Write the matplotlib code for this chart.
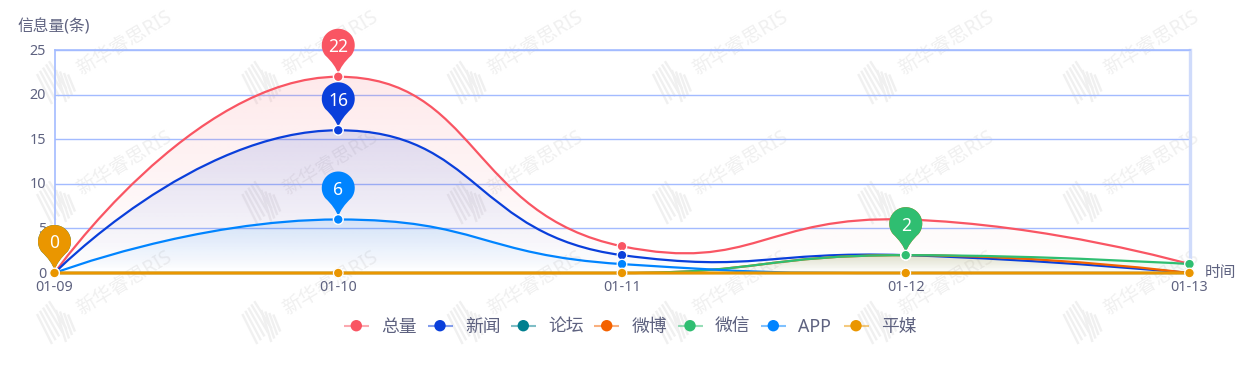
#!/usr/bin/env python3
"""Daily message volume per channel, smooth area lines with pin labels"""

import math
import numpy as np
import matplotlib
matplotlib.use("Agg")
import matplotlib.pyplot as plt
from matplotlib.path import Path
from matplotlib.patches import PathPatch, Circle
from matplotlib.transforms import ScaledTranslation

plt.rcParams['font.family'] = ['Noto Sans', 'Noto Sans CJK SC', 'DejaVu Sans']

W, H = 1260, 370

# Data
dates = ["01-09", "01-10", "01-11", "01-12", "01-13"]
y_ticks = [0, 5, 10, 15, 20, 25]
names = ["总量", "新闻", "论坛", "微博", "微信", "APP", "平媒"]
total = [0, 22, 3, 6, 1]
news = [0, 16, 2, 2, 0]
forum = [0, 0, 0, 0, 0]
weibo = [0, 0, 0, 2, 0]
wechat = [0, 0, 0, 2, 1]
app = [0, 6, 1, 0, 0]
press = [0, 0, 0, 0, 0]
series = [total, news, forum, weibo, wechat, app, press]
colors = ["#F95563", "#0A3FDB", "#007F8F", "#F46200", "#2FBE71", "#0084FF", "#EA9600"]

TEXT = "#5E6280"
GRID = "#A3BBFF"
EDGE = "#CFDBFB"
MARK = "#F0F0F0"
SMOOTH = 0.5

# Pixel box of the plot area
LEFT, RIGHT, TOP, BOTTOM = 54.5, 1189.5, 50, 273

fig = plt.figure(figsize=(W / 100, H / 100), dpi=100, facecolor="white")


def pixel_axes(zorder):
    a = fig.add_axes([0, 0, 1, 1], zorder=zorder)
    a.set_xlim(0, W)
    a.set_ylim(H, 0)
    a.axis('off')
    return a


bg = pixel_axes(0)
ax = fig.add_axes([LEFT / W, 1 - BOTTOM / H, (RIGHT - LEFT) / W, (BOTTOM - TOP) / H], zorder=1)
ax.patch.set_alpha(0)
top = pixel_axes(2)


def draw_watermark(a):
    """Tilted logo + name, repeated over the whole canvas"""
    for row in range(3):
        for col in range(6):
            ox = 37 + col * 205.3
            oy = 60 + row * 120
            for i in range(5):
                sx, sy = ox + i * 3, oy + 14 - i * 3.2
                a.plot([sx, sx + 15 + i * 0.6], [sy, sy + 30 - i * 0.6], color=MARK, lw=1.7,
                       solid_capstyle='butt')
            for i in range(4):
                sx, sy = ox + 19 + i * 4, oy + 10 + i * 1.5
                a.plot([sx, sx + 10 - i], [sy, sy + 32 - i * 5], color=MARK, lw=1.7,
                       solid_capstyle='butt')
            a.text(ox + 42, oy + 11, "新华睿思RIS", rotation=31, rotation_mode='anchor',
                   ha='left', va='center', fontsize=14, color=MARK)


def smooth_path(values):
    """Bezier through the values, control points kept inside the range of the series"""
    sx = (RIGHT - LEFT) / (len(values) - 1)
    sy = (BOTTOM - TOP) / (y_ticks[-1] - y_ticks[0])
    pts = [(i * sx, v * sy) for i, v in enumerate(values)]
    low, high = min(values) * sy, max(values) * sy
    verts = [pts[0]]
    codes = [Path.MOVETO]
    cp0 = pts[0]
    for i in range(1, len(pts)):
        x, y = pts[i]
        if i == len(pts) - 1:
            cp1 = (x, y)
            next_cp = (x, y)
        else:
            px, py = pts[i - 1]
            nx, ny = pts[i + 1]
            vx, vy = nx - px, ny - py
            len_prev = math.hypot(x - px, y - py)
            len_next = math.hypot(nx - x, ny - y)
            ratio = len_next / (len_next + len_prev)
            c1x = x - vx * SMOOTH * (1 - ratio)
            c1y = y - vy * SMOOTH * (1 - ratio)
            c0x = x + vx * SMOOTH * ratio
            c0y = y + vy * SMOOTH * ratio
            c0y = max(min(c0y, high), low)
            c1x = x - (c0x - x) * len_prev / len_next
            c1y = y - (c0y - y) * len_prev / len_next
            c1y = max(min(c1y, high), low)
            c0x = x + (x - c1x) * len_next / len_prev
            c0y = y + (y - c1y) * len_next / len_prev
            cp1 = (c1x, c1y)
            next_cp = (c0x, c0y)
        verts += [cp0, cp1, (x, y)]
        codes += [Path.CURVE4] * 3
        cp0 = next_cp
    verts = [(vx / sx, vy / sy) for vx, vy in verts]
    return verts, codes


def draw_area(values, color):
    """Vertical gradient under the line, clipped to the curve"""
    if max(values) == 0:
        return
    verts, codes = smooth_path(values)
    poly = Path(verts + [(len(values) - 1, 0), (0, 0), (0, 0)],
                codes + [Path.LINETO, Path.LINETO, Path.CLOSEPOLY])
    rgb = matplotlib.colors.to_rgb(color)
    grad = np.zeros((256, 2, 4))
    grad[..., :3] = rgb
    grad[..., 3] = np.linspace(0.13, 0, 256)[:, None]
    im = ax.imshow(grad, extent=[0, len(values) - 1, 0, max(values)], origin='upper',
                   aspect='auto', zorder=2, interpolation='bilinear')
    im.set_clip_path(PathPatch(poly, transform=ax.transData))


def pin_path(cx, cy, r, tip):
    """Map pin: circle on top, concave sides running to the tip"""
    a0, a1 = math.radians(-38), math.radians(218)
    angles = np.linspace(a0, a1, 40)
    verts = [(cx + r * math.cos(t), cy - r * math.sin(t)) for t in angles]
    codes = [Path.MOVETO] + [Path.LINETO] * (len(verts) - 1)
    right = verts[0]
    verts += [(cx - 3, tip - 9), (cx, tip)]
    codes += [Path.CURVE3, Path.CURVE3]
    verts += [(cx + 3, tip - 9), right]
    codes += [Path.CURVE3, Path.CURVE3]
    return Path(verts, codes)


def to_pixel(xv, yv):
    px, py = ax.transData.transform((xv, yv))
    return px, H - py


draw_watermark(bg)

# Axes
ax.set_xlim(0, len(dates) - 1)
ax.set_ylim(y_ticks[0], y_ticks[-1])
ax.set_xticks(range(len(dates)))
ax.set_xticklabels(dates)
ax.set_yticks(y_ticks)
ax.tick_params(axis='both', length=0, labelsize=10.3, labelcolor=TEXT)
ax.tick_params(axis='x', pad=5.2)
ax.tick_params(axis='y', pad=6)
ax.grid(axis='y', color=GRID, lw=1, zorder=1)
ax.set_axisbelow(True)
for lbl in ax.get_yticklabels():
    lbl.set_transform(lbl.get_transform() + ScaledTranslation(0, 0.7 / 72, fig.dpi_scale_trans))
for side in ['top', 'left', 'bottom']:
    ax.spines[side].set_color(GRID)
    ax.spines[side].set_linewidth(1.2)
ax.spines['right'].set_color(EDGE)
ax.spines['right'].set_linewidth(2.4)

for values, color in zip(series, colors):
    draw_area(values, color)

for i, (values, color) in enumerate(zip(series, colors)):
    verts, codes = smooth_path(values)
    width = 2.2 if i == len(series) - 1 else 1.6
    ax.add_patch(PathPatch(Path(verts, codes), fill=False, edgecolor=color, lw=width,
                           zorder=3 + i, clip_on=False, capstyle='round'))

# Dots, only where the value is not zero, plus the bottom row from the last series
for i, (values, color) in enumerate(zip(series, colors)):
    for j, v in enumerate(values):
        if v == 0 and i != len(series) - 1:
            continue
        px, py = to_pixel(j, v)
        top.add_patch(Circle((px, py), 4.8, facecolor=color, edgecolor="white", lw=0.9, zorder=3 + i))

# Pin on the maximum of every series, later series cover earlier ones
for i, (values, color) in enumerate(zip(series, colors)):
    j = int(np.argmax(values))
    px, py = to_pixel(j, values[j])
    cy = py - 31.5
    top.add_patch(PathPatch(pin_path(px, cy, 16.5, py - 3), facecolor=color, edgecolor='none',
                            zorder=20 + i * 2))
    top.text(px, cy + 2, str(values[j]), color="white", fontsize=12.5, ha='center', va='center',
             zorder=21 + i * 2)
    # keep the dot above the tip of its own pin
    top.add_patch(Circle((px, py), 4.8, facecolor=color, edgecolor="white", lw=0.9, zorder=20 + i * 2))

# Axis names
top.text(17, 27.5, "信息量(条)", color=TEXT, fontsize=11.3, ha='left', va='center')
top.text(1205, 272.5, "时间", color=TEXT, fontsize=11.3, ha='left', va='center')

# Legend
legend_x = [356.3, 440, 523.3, 606.7, 690, 773.3, 856]
for lx, name, color in zip(legend_x, names, colors):
    top.plot([lx - 12.5, lx + 12.5], [325.7, 325.7], color=color, alpha=0.5, lw=1.5,
             solid_capstyle='butt')
    top.add_patch(Circle((lx, 325.7), 5.7, facecolor=color, edgecolor='none'))
    top.text(lx + 25, 327, name, color=TEXT, fontsize=12.8, ha='left', va='center')

fig.savefig("out.png", dpi=100)
